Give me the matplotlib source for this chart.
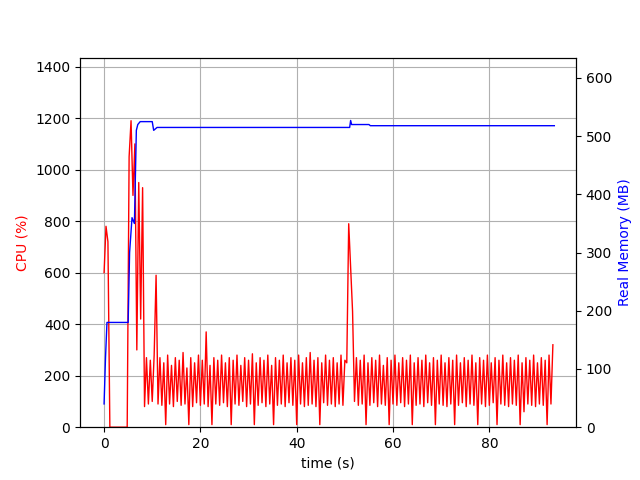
import numpy as np
import matplotlib
matplotlib.use("Agg")
import matplotlib.pyplot as plt

# CPU samples, one every 0.4 s
cpu_start = [600, 780, 720, 0, 0, 0, 0, 0, 0, 0, 0, 0, 0,
             1050, 1190, 900, 1100, 300, 950, 420, 930, 80, 270, 90, 260, 100, 280, 590]
cpu_mid = [90, 270, 85, 250, 10, 280, 90, 240, 80, 270, 100, 260, 85, 290, 90, 230, 10, 270, 80, 250,
           95, 280, 85, 260, 90, 370, 80, 240, 10, 270, 90, 260, 85, 280, 95, 250, 80, 270, 10, 260,
           90, 280, 85, 240, 100, 270, 80, 260, 90, 285, 10, 250, 85, 270, 95, 260, 80, 280, 90, 240,
           10, 270, 85, 260, 90, 280, 80, 250, 95, 270, 85, 260, 10, 280, 90, 250, 80, 270, 85, 290,
           90, 260, 80, 270, 10, 250, 95, 280, 85, 260, 90, 270, 80, 250, 90, 280, 85, 260, 250]
cpu_spike = [790, 620, 450, 100]
cpu_end = [270, 85, 260, 90, 280, 10, 250, 85, 270, 95, 260, 80, 280, 90, 240, 85, 270, 10, 260, 90,
           280, 85, 250, 95, 270, 80, 260, 90, 280, 10, 250, 85, 270, 90, 260, 80, 280, 95, 250, 85,
           270, 10, 260, 90, 280, 85, 250, 80, 270, 90, 260, 10, 280, 85, 250, 95, 270, 80, 260, 90,
           280, 85, 250, 10, 270, 90, 260, 80, 280, 85, 250, 95, 270, 10, 260, 90, 280, 85, 250, 80,
           270, 90, 260, 85, 280, 10, 250, 60, 270, 90, 260, 85, 280, 80, 250, 90, 270, 85, 260, 10,
           280, 90, 320]
cpu = np.array(cpu_start + cpu_mid + cpu_spike + cpu_end, dtype=float)
cpu_time = np.arange(len(cpu)) * 0.4

# Real memory (MB)
mem_time = [0, 0.3, 0.6, 1.0, 5.0, 5.3, 5.8, 6.3, 6.7, 7.0, 7.5, 8.0, 10.0, 10.3, 11.0,
            51.0, 51.2, 51.4, 55.0, 55.3, 93.5]
mem = [40, 120, 180, 180, 180, 300, 360, 350, 510, 520, 525, 525, 525, 510, 515,
       515, 527, 520, 520, 518, 518]

fig, ax = plt.subplots(figsize=(6.4, 4.8), dpi=100)
ax.plot(cpu_time, cpu, '-', color='r', lw=1)
ax.set_ylabel('CPU (%)', color='r')
ax.set_xlabel('time (s)')
ax.set_ylim(0, 1435)
ax.set_xlim(-5, 98)
ax.grid()

ax2 = ax.twinx()
ax2.plot(mem_time, mem, '-', color='b', lw=1)
ax2.set_ylim(0, 635)
ax2.set_ylabel('Real Memory (MB)', color='b')

fig.savefig('out.png')
